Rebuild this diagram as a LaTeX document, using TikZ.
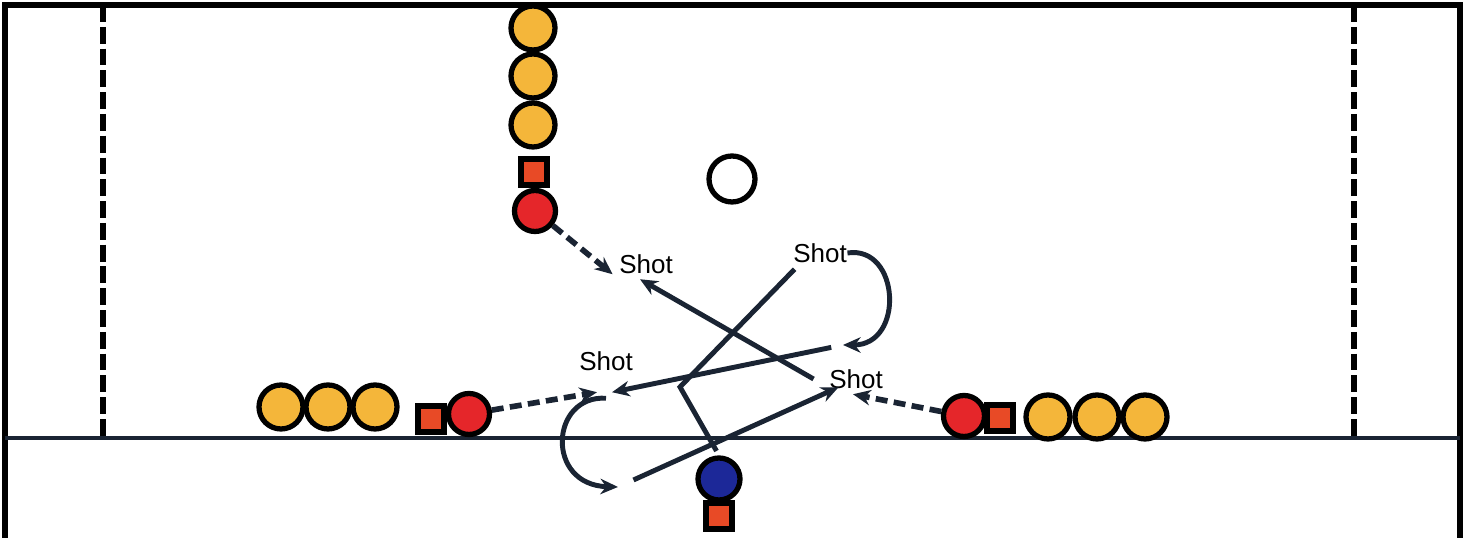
\documentclass[tikz,border=0pt]{standalone}
\usepackage{fontspec}
\setmainfont{Liberation Sans}
\usepackage{xcolor}
\usepackage{tikz}
\usetikzlibrary{arrows.meta}
\definecolor{lineblue}{HTML}{1A2433}
\definecolor{cheese}{HTML}{F4B63A}
\definecolor{redshirt}{HTML}{E5262A}
\definecolor{conered}{HTML}{E84A26}
\definecolor{goalie}{HTML}{1C2898}
\tikzstyle{queue} = [circle, draw=black, line width=1.5pt, fill=cheese, minimum size=0.44cm, inner sep=0]
\tikzstyle{shooter} = [circle, draw=black, line width=1.5pt, fill=redshirt, minimum size=0.41cm, inner sep=0]
\tikzstyle{keeper} = [circle, draw=black, line width=1.5pt, fill=goalie, minimum size=0.42cm, inner sep=0]
\tikzstyle{cone} = [rectangle, draw=black, line width=1.5pt, fill=conered, minimum size=0.26cm, inner sep=0]
\tikzstyle{ball} = [circle, draw=black, line width=1.5pt, fill=white, minimum size=0.46cm, inner sep=0]
\tikzstyle{shot} = [inner sep=0, font=\fontsize{7.4}{9}\selectfont]
\tikzstyle{pass} = [draw=lineblue, line width=1.4pt, -{Stealth[length=5pt,width=4.4pt]}]
\tikzstyle{cut} = [pass, line width=1.6pt, dash pattern=on 3.4pt off 1.8pt]
\tikzstyle{move} = [draw=lineblue, line width=1.4pt]

\begin{document}
\begin{tikzpicture}
   \useasboundingbox (0,0) rectangle (14.77,5.38);
   % field
   \draw [line width=1.5pt, black] (0.05,-0.2) -- (0.05,5.33) -- (14.60,5.33) -- (14.60,-0.2);
   \draw [line width=1.4pt, lineblue] (0.05,1.00) -- (14.60,1.00);
   \draw [line width=1.5pt, dash pattern=on 4.8pt off 1.4pt] (1.03,5.33) -- (1.03,1.00);
   \draw [line width=1.5pt, dash pattern=on 4.8pt off 1.4pt] (13.54,5.33) -- (13.54,1.00);
   \node (ball) [ball] at (7.32,3.59) {};
   % top line
   \node (t1) [queue] at (5.33,5.10) {};
   \node (t2) [queue] at (5.33,4.62) {};
   \node (t3) [queue] at (5.33,4.13) {};
   \node (tc) [cone] at (5.34,3.66) {};
   \node (tr) [shooter] at (5.35,3.27) {};
   % left line
   \node (l1) [queue] at (2.81,1.31) {};
   \node (l2) [queue] at (3.28,1.31) {};
   \node (l3) [queue] at (3.75,1.31) {};
   \node (lc) [cone] at (4.31,1.19) {};
   \node (lr) [shooter] at (4.69,1.24) {};
   % right line
   \node (rr) [shooter] at (9.64,1.22) {};
   \node (rc) [cone] at (10.00,1.20) {};
   \node (r1) [queue] at (10.48,1.21) {};
   \node (r2) [queue] at (10.97,1.21) {};
   \node (r3) [queue] at (11.45,1.21) {};
   % feeder
   \node (gk) [keeper] at (7.19,0.59) {};
   \node (gc) [cone] at (7.19,0.22) {};
   % shots
   \node (sa) [shot] at (6.46,2.74) {Shot};
   \node (sb) [shot] at (8.20,2.85) {Shot};
   \node (sc) [shot] at (6.06,1.77) {Shot};
   \node (sd) [shot] at (8.56,1.59) {Shot};
   \coordinate (bend) at (8.43,1.93);
   \coordinate (cend) at (6.18,0.51);
   \coordinate (kink) at (6.80,1.51);
   % runs
   \draw [cut] (tr) -- ([xshift=-0.06cm]sa.south west);
   \draw [cut] (lr) -- ([xshift=-0.09cm,yshift=-0.21cm]sc.south);
   \draw [cut] (rr) -- ([xshift=-0.03cm,yshift=-0.05cm]sd.south);
   % passes
   \draw [pass] ([xshift=-0.15cm]sd.west) -- ([xshift=-0.06cm,yshift=-0.05cm]sa.south);
   \draw [pass, shorten <=0.12cm] (bend) -- ([xshift=0.06cm,yshift=-0.21cm]sc.south);
   \draw [pass, shorten <=0.17cm] (cend) -- ([xshift=0.10cm,yshift=0.02cm]sd.south west);
   \draw [pass] (sb.east) .. controls (9.00,2.93) and (9.05,1.93) .. (bend);
   \draw [pass] ([yshift=-0.27cm]sc.south) .. controls (5.50,1.43) and (5.45,0.53) .. (cend);
   \draw [move, shorten <=0.05cm] (gk.north) -- (kink) -- ([xshift=0.02cm,yshift=-0.06cm]sb.south west);
\end{tikzpicture}
\end{document}
